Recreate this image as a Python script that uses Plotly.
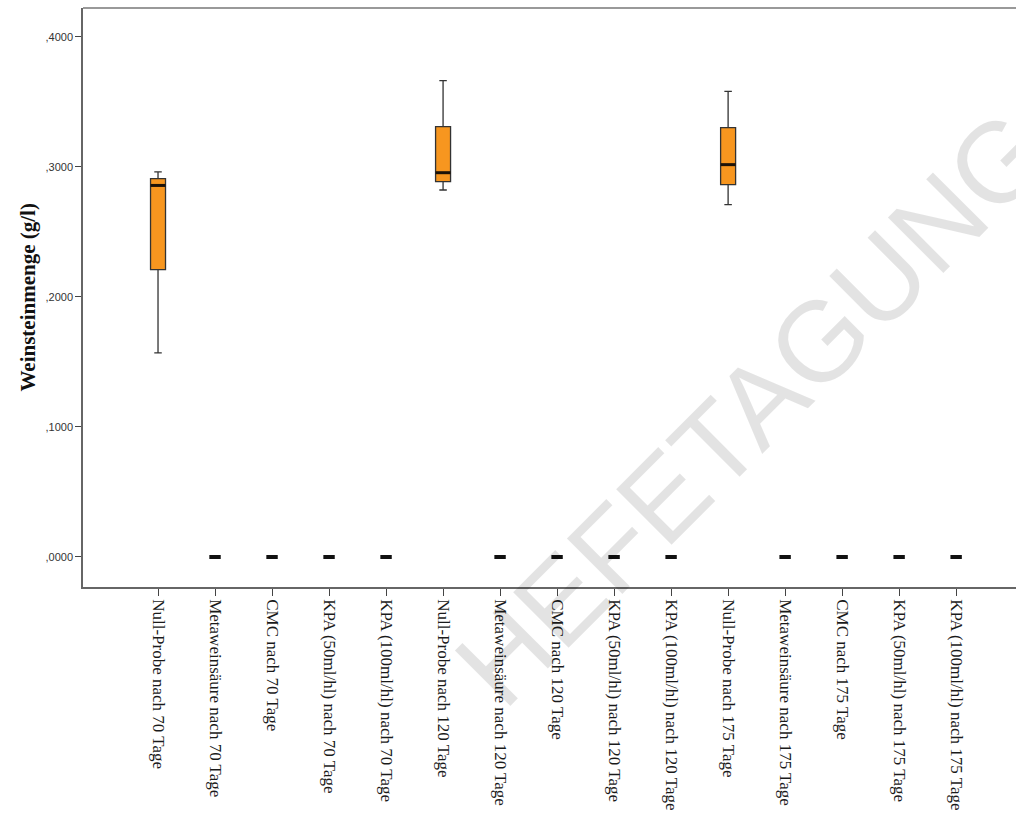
import plotly.graph_objects as go

# Treatment groups on the x axis
categories = [
    "Null-Probe nach 70 Tage",
    "Metaweinsäure nach 70 Tage",
    "CMC nach 70 Tage",
    "KPA (50ml/hl) nach 70 Tage",
    "KPA (100ml/hl) nach 70 Tage",
    "Null-Probe nach 120 Tage",
    "Metaweinsäure nach 120 Tage",
    "CMC nach 120 Tage",
    "KPA (50ml/hl) nach 120 Tage",
    "KPA (100ml/hl) nach 120 Tage",
    "Null-Probe nach 175 Tage",
    "Metaweinsäure nach 175 Tage",
    "CMC nach 175 Tage",
    "KPA (50ml/hl) nach 175 Tage",
    "KPA (100ml/hl) nach 175 Tage",
]

# Five-number summaries of the untreated controls (g/l)
null_idx = [0, 5, 10]
null_lower = [0.157, 0.2823, 0.2710]
null_q1 = [0.221, 0.2887, 0.2864]
null_median = [0.2858, 0.2956, 0.3018]
null_q3 = [0.2910, 0.3310, 0.3303]
null_upper = [0.2963, 0.3664, 0.3582]

# Treated groups: no tartrate deposit at all
zero_idx = [1, 2, 3, 4, 6, 7, 8, 9, 11, 12, 13, 14]
zero_values = [0.0] * len(zero_idx)

y_ticks = [0.0, 0.1, 0.2, 0.3, 0.4]
y_ticktext = [",0000", ",1000", ",2000", ",3000", ",4000"]

box_w = 0.263
orange = "#F7961F"

fig = go.Figure()

fig.add_trace(go.Box(
    x=null_idx,
    lowerfence=null_lower,
    q1=null_q1,
    median=null_median,
    q3=null_q3,
    upperfence=null_upper,
    width=box_w,
    whiskerwidth=0.5,
    fillcolor=orange,
    line=dict(color="#333333", width=1.3),
    boxpoints=False,
    showlegend=False,
    hoverinfo="skip",
))

# thicker median bars drawn over the boxes
mx, my = [], []
for i, m in zip(null_idx, null_median):
    mx += [i - box_w / 2, i + box_w / 2, None]
    my += [m, m, None]
fig.add_trace(go.Scatter(
    x=mx, y=my, mode="lines",
    line=dict(color="#1c1208", width=3),
    showlegend=False, hoverinfo="skip",
))

fig.add_trace(go.Box(
    x=zero_idx,
    lowerfence=zero_values,
    q1=zero_values,
    median=zero_values,
    q3=zero_values,
    upperfence=zero_values,
    width=0.2,
    whiskerwidth=0.5,
    fillcolor="#111111",
    line=dict(color="#111111", width=4),
    boxpoints=False,
    showlegend=False,
    hoverinfo="skip",
))

fig.update_layout(
    width=1016,
    height=817,
    margin=dict(l=83, r=0, t=8, b=230),
    paper_bgcolor="white",
    plot_bgcolor="white",
    xaxis=dict(
        range=[-1.316, 15.05],
        tickmode="array",
        tickvals=list(range(len(categories))),
        ticktext=categories,
        tickangle=90,
        ticks="outside",
        ticklen=7,
        tickcolor="#444",
        tickwidth=1.3,
        showline=True,
        linecolor="#666",
        linewidth=1.6,
        showgrid=False,
        zeroline=False,
        tickfont=dict(family="Liberation Serif", size=17, color="#1a1a1a"),
    ),
    yaxis=dict(
        range=[-0.0231, 0.4223],
        tickmode="array",
        tickvals=y_ticks,
        ticktext=y_ticktext,
        ticks="outside",
        ticklen=6,
        tickcolor="#444",
        tickwidth=1.3,
        showline=True,
        linecolor="#666",
        linewidth=1.6,
        showgrid=False,
        zeroline=False,
        tickfont=dict(family="Liberation Sans", size=11, color="#333"),
    ),
    shapes=[dict(
        type="line", xref="paper", yref="paper",
        x0=0, x1=1, y0=1, y1=1,
        line=dict(color="#777", width=1.6),
    )],
    annotations=[
        dict(
            text="<b>Weinsteinmenge (g/l)</b>",
            xref="paper", yref="paper", x=0, y=0.5,
            xanchor="center", yanchor="middle", xshift=-56,
            textangle=-90, showarrow=False,
            font=dict(family="Liberation Serif", size=21, color="#111"),
        ),
        dict(
            text="HEFETAGUNG",
            xref="paper", yref="paper", x=0.718, y=0.31,
            xanchor="center", yanchor="middle",
            textangle=-45, showarrow=False,
            font=dict(family="Liberation Sans", size=114, color="rgba(0,0,0,0.11)"),
        ),
    ],
)

fig.write_html("out.html")
